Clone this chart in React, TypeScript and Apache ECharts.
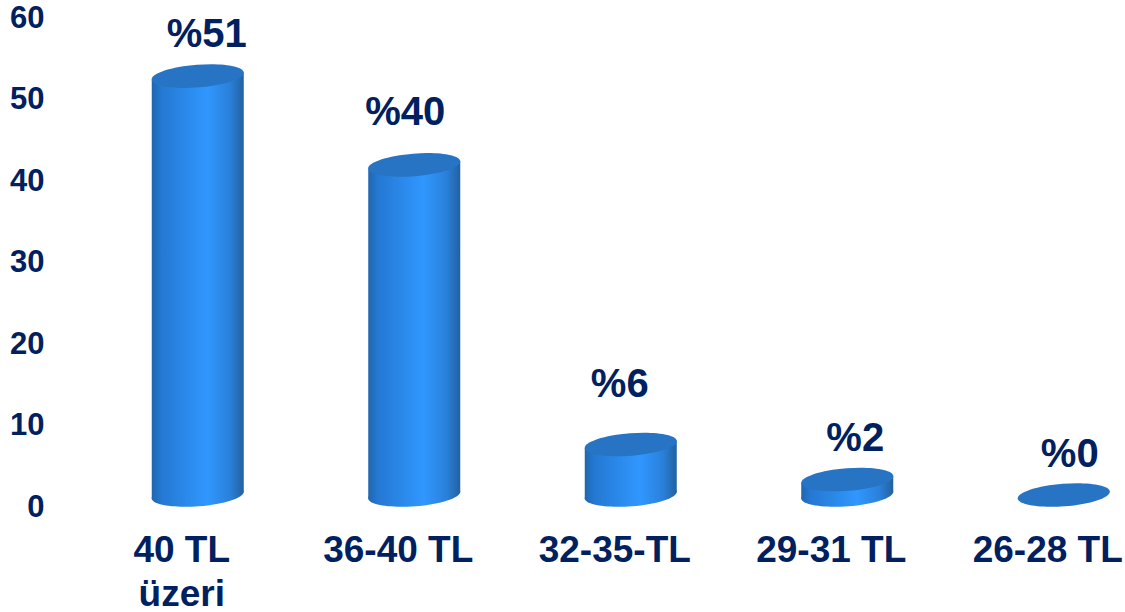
import React, { useEffect, useRef } from "react";
import * as echarts from "echarts";

const categories = ["40 TL\nüzeri", "36-40 TL", "32-35-TL", "29-31 TL", "26-28 TL"];
const values = [51.4, 40.5, 6.2, 1.9, 0];
const valueLabels = ["%51", "%40", "%6", "%2", "%0"];
const yTicks = [0, 10, 20, 30, 40, 50, 60];

// Label offsets from the top-ellipse centre of each cylinder
const labelDx = [9, -9, -11, 8, 6];
const labelDy = [-43, -54, -61, -43, -42];

const TEXT = "#002060";
const FONT = '"Liberation Sans", Arial, sans-serif';
const SHIFT_X = 16;
const SHIFT_Y = -11;
const RX = 46;
const RY = 11.3;
const TILT = 3.6;
const ROT = (4.5 * Math.PI) / 180;

const bodyFill = () =>
  new echarts.graphic.LinearGradient(0, 0, 1, 0, [
    { offset: 0, color: "#2066b0" },
    { offset: 0.1, color: "#2478d2" },
    { offset: 0.6, color: "#3097ff" },
    { offset: 0.85, color: "#2a80da" },
    { offset: 1, color: "#22619f" },
  ]);

function renderItem(_: any, api: any) {
  const i = api.value(0);
  const [cx0, y0] = api.coord([i, 0]);
  const [, yv] = api.coord([i, api.value(1)]);
  const x = cx0 + SHIFT_X;
  const yb = y0 + SHIFT_Y;
  const yt = yv + SHIFT_Y;
  const l = x - RX;
  const r = x + RX;
  const children: any[] = [];
  if (yb - yt > 0.5) {
    children.push({
      type: "ellipse",
      x,
      y: yb,
      rotation: ROT,
      shape: { cx: 0, cy: 0, rx: RX + 0.2, ry: RY },
      style: { fill: bodyFill() },
    });
    children.push({
      type: "polygon",
      shape: { points: [[l, yt + TILT], [l, yb + TILT], [r, yb - TILT], [r, yt - TILT]] },
      style: { fill: bodyFill() },
    });
  }
  children.push({
    type: "ellipse",
    x,
    y: yt,
    rotation: ROT,
    shape: { cx: 0, cy: 0, rx: RX + 0.2, ry: RY },
    style: { fill: "#2874c4" },
  });
  children.push({
    type: "text",
    x: x + labelDx[i],
    y: yt + labelDy[i],
    style: {
      text: valueLabels[i],
      fill: TEXT,
      font: `bold 40px ${FONT}`,
      align: "center",
      verticalAlign: "middle",
    },
  });
  return { type: "group", children };
}

export default function App() {
  const ref = useRef<HTMLDivElement>(null);
  useEffect(() => {
    const chart = echarts.init(ref.current!, undefined, { renderer: "svg" });
    chart.setOption({
      animation: false,
      backgroundColor: "#ffffff",
      grid: { left: 73.5, width: 1082.5, top: 17, height: 489, containLabel: false, outerBoundsMode: "none" },
      xAxis: {
        type: "category",
        data: categories,
        axisLine: { show: false },
        axisTick: { show: false },
        axisLabel: {
          color: TEXT,
          fontFamily: FONT,
          fontWeight: "bold",
          fontSize: 37,
          lineHeight: 44,
          margin: 21,
          interval: 0,
          hideOverlap: false,
        },
      },
      yAxis: {
        type: "value",
        min: yTicks[0],
        max: yTicks[yTicks.length - 1],
        interval: 10,
        splitLine: { show: false },
        axisLine: { show: false },
        axisTick: { show: false },
        axisLabel: { color: TEXT, fontFamily: FONT, fontWeight: "bold", fontSize: 31, margin: 29 },
      },
      series: [
        {
          type: "custom",
          renderItem,
          clip: false,
          encode: { x: 0, y: 1 },
          data: values.map((v, i) => [i, v]),
        },
      ],
    });
    return () => chart.dispose();
  }, []);
  return <div ref={ref} style={{ position: "absolute", left: 0, top: 0, width: 1125, height: 612 }} />;
}
